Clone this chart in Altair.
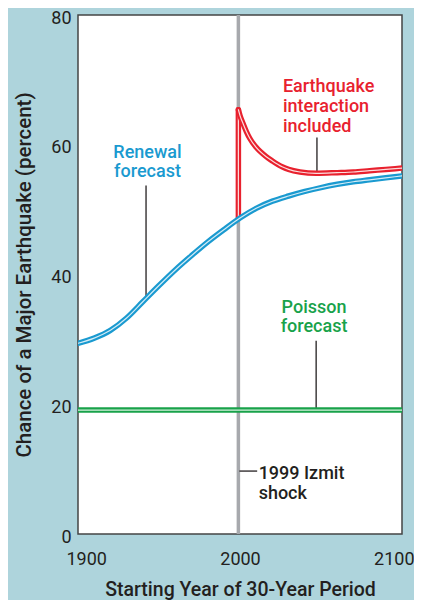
import altair as alt
import pandas as pd

# ---- data ----
renewal_years = [1900, 1910, 1920, 1930, 1940, 1950, 1960, 1970, 1980, 1990, 2000,
                 2010, 2020, 2030, 2040, 2050, 2060, 2070, 2080, 2090, 2100]
renewal_vals = [29.4, 30.2, 31.4, 33.3, 35.8, 38.3, 40.7, 42.9, 45.0, 46.9, 48.7,
                50.2, 51.3, 52.1, 52.8, 53.4, 53.9, 54.3, 54.6, 54.9, 55.2]

interaction_years = [1999, 2000, 2002, 2004, 2006, 2010, 2016, 2020, 2026, 2030, 2037,
                     2047, 2060, 2070, 2080, 2090, 2100]
interaction_vals = [65.4, 64.5, 63.2, 62.0, 61.0, 59.6, 58.2, 57.5, 56.6, 56.2, 55.8,
                    55.6, 55.7, 55.8, 56.0, 56.2, 56.4]

jump_years = [1999, 1999]
jump_vals = [48.7, 65.4]

poisson_years = [1900, 2100]
poisson_vals = [19.1, 19.1]

shock_year = 1999
x_ticks = [1900, 2000, 2100]
y_ticks = [0, 20, 40, 60, 80]

BG = "#aed4dc"
INK = "#231f20"
RED = "#e8212e"
RED_IN = "#fcdede"
BLUE = "#1a9ad0"
BLUE_IN = "#d4ecf6"
GREEN = "#18a24a"
GREEN_IN = "#d6f0de"
FONT = "Roboto"

renewal = pd.DataFrame({"year": renewal_years, "v": renewal_vals})
inter = pd.DataFrame({"year": interaction_years, "v": interaction_vals})
jump = pd.DataFrame({"year": jump_years, "v": jump_vals})
poisson = pd.DataFrame({"year": poisson_years, "v": poisson_vals})

xs = alt.Scale(domain=[1900, 2100], nice=False)
ys = alt.Scale(domain=[0, 80], nice=False)

X = alt.X("year:Q", scale=xs,
          axis=alt.Axis(values=x_ticks, format="d", title="Starting Year of 30-Year Period",
                        grid=False, ticks=False, domain=False, labelPadding=16,
                        labelFlush=True, labelFlushOffset=12,
                        titlePadding=12, titleFontSize=19.5))
Y = alt.Y("v:Q", scale=ys,
          axis=alt.Axis(values=y_ticks, title="Chance of a Major Earthquake (percent)",
                        grid=False, ticks=False, domain=False, labelPadding=7,
                        labelOffset=3, titlePadding=16, titleFontSize=20.5))


def double_line(df, outer, inner, interp="monotone"):
    base = alt.Chart(df).encode(x=X, y=Y)
    o = base.mark_line(color=outer, strokeWidth=5.5, interpolate=interp,
                       strokeCap="round", strokeJoin="round", clip=True)
    i = base.mark_line(color=inner, strokeWidth=1.2, interpolate=interp,
                       strokeCap="round", strokeJoin="round", clip=True)
    return o + i


gray = alt.Chart().mark_rule(color="#a7a9ad", strokeWidth=3.5).encode(
    x=alt.datum(shock_year, scale=xs), y=alt.datum(0, scale=ys), y2=alt.datum(80))


def vrule(xv, y1, y2):
    return alt.Chart().mark_rule(color=INK, strokeWidth=1.3).encode(
        x=alt.datum(xv, scale=xs), y=alt.datum(y1, scale=ys), y2=alt.datum(y2))


ptr_renewal = vrule(1942, 53.7, 36.4)
ptr_inter = vrule(2047.5, 61.1, 55.7)
ptr_poisson = vrule(2047, 29.8, 19.3)
ptr_shock = alt.Chart().mark_rule(color=INK, strokeWidth=1.3).encode(
    x=alt.datum(1999.6, scale=xs), x2=alt.datum(2010.6), y=alt.datum(9.7, scale=ys))


def label(lines, xv, yv, color, align="center"):
    return alt.Chart().mark_text(
        text=lines, color=color, font=FONT, fontSize=18, fontWeight=500,
        align=align, baseline="middle", lineHeight=19.8
    ).encode(x=alt.datum(xv, scale=xs), y=alt.datum(yv, scale=ys))


t_renewal = label(["Renewal", "forecast"], 1942.9, 58.8, BLUE)
t_inter = label(["Earthquake", "interaction", "included"], 2026.5, 68.9, RED, "left")
t_poisson = label(["Poisson", "forecast"], 2045.7, 34.9, GREEN)
t_shock = label(["1999 Izmit", "shock"], 2011.5, 9.2, INK, "left")

chart = alt.layer(
    gray,
    ptr_renewal, ptr_inter, ptr_poisson, ptr_shock,
    double_line(poisson, GREEN, GREEN_IN, "linear"),
    double_line(jump, RED, RED_IN, "linear"),
    double_line(inter, RED, RED_IN),
    double_line(renewal, BLUE, BLUE_IN),
    t_renewal, t_inter, t_poisson, t_shock,
).properties(
    width=324, height=519,
    autosize=alt.AutoSizeParams(type="none"),
    padding={"left": 70, "top": 7, "right": 12, "bottom": 72},
    background=BG,
).configure_view(
    fill="white", stroke="#444444", strokeWidth=1.5
).configure_axis(
    labelFont=FONT, labelFontSize=18, labelColor=INK,
    titleFont=FONT, titleColor=INK, titleFontWeight=500,
)

chart.save("out.html", embed_options={"renderer": "svg", "actions": False})
